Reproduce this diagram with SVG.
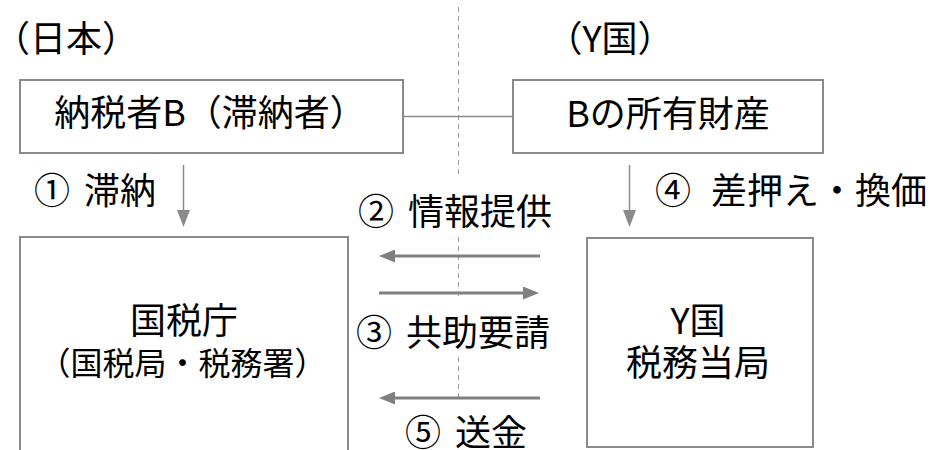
<svg xmlns="http://www.w3.org/2000/svg" width="932" height="450" viewBox="0 0 932 450">
  <style>
    text { font-family: "Noto Sans CJK JP", "Noto Sans", sans-serif; fill: #000; }
    .t36 { font-size: 36px; }
    .t32 { font-size: 32px; }
    .mid { text-anchor: middle; }
    .box { fill: #fff; stroke: #898989; stroke-width: 2; }
    .thin { stroke: #8a8a8a; stroke-width: 1.5; fill: none; }
    .thick { stroke: #7f7f7f; stroke-width: 3; fill: none; }
    .dash { stroke: #9a9a9a; stroke-width: 1; stroke-dasharray: 5 4; fill: none; }
  </style>
  <defs>
    <marker id="hd" markerUnits="userSpaceOnUse" viewBox="0 0 16 13" refX="0" refY="6.5" markerWidth="16" markerHeight="13" orient="auto">
      <path d="M0,0 L16,6.5 L0,13 z" fill="#7f7f7f"/>
    </marker>
    <marker id="hv" markerUnits="userSpaceOnUse" viewBox="0 0 17 13" refX="0" refY="6.5" markerWidth="17" markerHeight="13" orient="auto">
      <path d="M0,0 L17,6.5 L0,13 z" fill="#8a8a8a"/>
    </marker>
  </defs>

  <g id="divider">
    <path class="dash" d="M458.5,7 V177 M458.5,237 V297 M458.5,357 V398"/>
  </g>

  <g id="labels-country">
    <text class="t36 mid" x="66" y="52">（日本）</text>
    <text class="t36 mid" x="610" y="52">（Y国）</text>
  </g>

  <g id="connectors">
    <line class="thin" x1="403" y1="116.5" x2="513" y2="116.5"/>
    <line class="thin" x1="183.5" y1="165" x2="183.5" y2="210" marker-end="url(#hv)"/>
    <line class="thin" x1="629.5" y1="165" x2="629.5" y2="210" marker-end="url(#hv)"/>
    <line class="thick" x1="540" y1="256" x2="395" y2="256" marker-end="url(#hd)"/>
    <line class="thick" x1="379" y1="293" x2="523" y2="293" marker-end="url(#hd)"/>
    <line class="thick" x1="540" y1="398" x2="395" y2="398" marker-end="url(#hd)"/>
  </g>

  <g id="node-taxpayer">
    <rect class="box" x="20" y="80" width="383" height="73"/>
    <text class="t36 mid" x="210" y="126">納税者B（滞納者）</text>
  </g>

  <g id="node-property">
    <rect class="box" x="513" y="80" width="310" height="73"/>
    <text class="t36 mid" x="668" y="127">Bの所有財産</text>
  </g>

  <g id="node-nta">
    <rect class="box" x="20" y="237" width="328" height="230"/>
    <text class="t36 mid" x="184" y="334">国税庁</text>
    <text class="t32 mid" x="182.5" y="375">（国税局・税務署）</text>
  </g>

  <g id="node-ytax">
    <rect class="box" x="587" y="238" width="226" height="209"/>
    <text class="t36 mid" x="698" y="334">Y国</text>
    <text class="t36 mid" x="698" y="376">税務当局</text>
  </g>

  <g id="edge-labels">
    <text class="t36" x="34" y="204" word-spacing="6">① 滞納</text>
    <text class="t36" x="655" y="204" word-spacing="12">④ 差押え・換価</text>
    <text class="t36" x="358" y="225" word-spacing="6">② 情報提供</text>
    <text class="t36" x="356" y="346" word-spacing="6">③ 共助要請</text>
    <text class="t36" x="405" y="446" word-spacing="6">⑤ 送金</text>
  </g>
</svg>
